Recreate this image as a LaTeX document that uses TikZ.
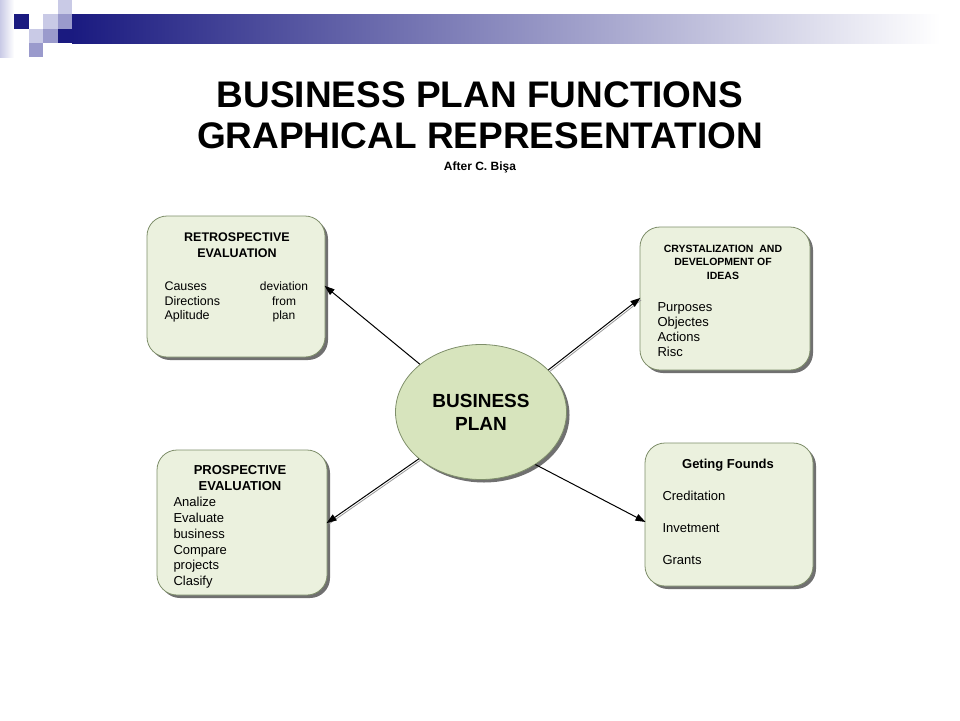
\documentclass[tikz,border=0pt]{standalone}
\usepackage{fontspec}
\setmainfont{Liberation Sans}
\usetikzlibrary{shapes.geometric, shadows, arrows.meta, calc}
\definecolor{navyblue}{HTML}{1A1A80}
\definecolor{lightlav}{HTML}{C9CAE6}
\definecolor{midlav}{HTML}{9A9ACC}
\definecolor{boxfill}{HTML}{EBF1DE}
\definecolor{ovalfill}{HTML}{D7E4BD}
\definecolor{boxline}{HTML}{7E8E6A}
\begin{document}
\begin{tikzpicture}[
        x = 1pt, y = -1pt,
        line width = 1pt,
        card/.style = {draw = boxline, fill = boxfill, line width = 0.8pt, rounded corners = 20pt, inner sep = 0pt,
            drop shadow = {shadow xshift = 3pt, shadow yshift = -3pt, fill = black!70, opacity = 0.8}},
        oval/.style = {ellipse, draw = boxline, fill = ovalfill, line width = 0.8pt, inner sep = 0pt, align = center,
            minimum width = 171pt, minimum height = 135pt, font = \bfseries\fontsize{19}{23}\selectfont,
            drop shadow = {shadow xshift = 3pt, shadow yshift = -3pt, fill = black!70, opacity = 0.8}},
        title/.style = {font = \bfseries\fontsize{37}{41}\selectfont, inner sep = 0pt, anchor = base},
        head/.style = {font = \bfseries\fontsize{13}{15}\selectfont, inner sep = 0pt, anchor = base},
        item/.style = {font = \fontsize{13}{15}\selectfont, inner sep = 0pt, anchor = base west},
        link/.style = {-{Triangle[length = 10pt, width = 7pt]}, black, shorten > = -1pt},
        shade link/.style = {black!40, line width = 0.8pt, transform canvas = {xshift = 1.5pt, yshift = -1.5pt}}
    ]
        \useasboundingbox (0,0) rectangle (960,720);
        % header band
        \shade[left color = navyblue, right color = white] (72,14) rectangle (940,43);
        \shade[left color = lightlav, right color = white] (0,0) rectangle (14,57);
        \fill[lightlav] (58,0) rectangle (72,14);
        \fill[navyblue] (14,14) rectangle (29,29);
        \fill[lightlav] (43,14) rectangle (58,29);
        \fill[midlav] (58,14) rectangle (72,29);
        \fill[lightlav] (29,29) rectangle (43,43);
        \fill[midlav] (43,29) rectangle (58,43);
        \fill[navyblue] (58,29) rectangle (72,43);
        \fill[midlav] (29,43) rectangle (43,57);

        \node[title] (titleA) at (480,107) {BUSINESS PLAN FUNCTIONS};
        \node[title] (titleB) at (480,148) {GRAPHICAL REPRESENTATION};
        \node[head, font = \bfseries\fontsize{12}{14}\selectfont] (after) at (480,170) {After C. Bişa};

        % boxes
        \node[card, minimum width = 178pt, minimum height = 141pt] (retro) at (236,286.5) {};
        \node[card, minimum width = 170pt, minimum height = 143pt] (crystal) at (725,298.5) {};
        \node[card, minimum width = 170pt, minimum height = 145pt] (prosp) at (242,522.5) {};
        \node[card, minimum width = 168pt, minimum height = 143pt] (founds) at (729,514.5) {};
        \node[oval] (plan) at (481,412) {BUSINESS\\PLAN};

        % retrospective
        \node[head, font = \bfseries\fontsize{12.5}{15}\selectfont] (retroT1) at (237,241) {RETROSPECTIVE};
        \node[head, font = \bfseries\fontsize{12.5}{15}\selectfont] (retroT2) at (237,257) {EVALUATION};
        \node[item, font = \fontsize{12.5}{15}\selectfont] (causes) at (164,290) {Causes};
        \node[item, font = \fontsize{12.5}{15}\selectfont] (directions) at (164,305) {Directions};
        \node[item, font = \fontsize{12.5}{15}\selectfont] (aplitude) at (164,319.5) {Aplitude};
        \node[item, anchor = base, font = \fontsize{12}{15}\selectfont] (deviation) at (284,290) {deviation};
        \node[item, anchor = base, font = \fontsize{12}{15}\selectfont] (from) at (284,305) {from};
        \node[item, anchor = base, font = \fontsize{12}{15}\selectfont] (plantxt) at (284,319.5) {plan};

        % crystalization
        \node[head, font = \bfseries\fontsize{10.5}{13}\selectfont] (crystT1) at (723,252) {CRYSTALIZATION\ \ AND};
        \node[head, font = \bfseries\fontsize{10.5}{13}\selectfont] (crystT2) at (723,265.5) {DEVELOPMENT OF};
        \node[head, font = \bfseries\fontsize{10.5}{13}\selectfont] (crystT3) at (723,279) {IDEAS};
        \node[item] (purposes) at (657,311) {Purposes};
        \node[item] (objectes) at (657,326) {Objectes};
        \node[item] (actions) at (657,341) {Actions};
        \node[item] (risc) at (657,356) {Risc};

        % prospective
        \node[head] (prospT1) at (240,474.5) {PROSPECTIVE};
        \node[head] (prospT2) at (240,490) {EVALUATION};
        \node[item] (analize) at (173,506.5) {Analize};
        \node[item] (evaluate) at (173,522.3) {Evaluate};
        \node[item] (business) at (173,538) {business};
        \node[item] (compare) at (173,554) {Compare};
        \node[item] (projects) at (173,569.5) {projects};
        \node[item] (clasify) at (173,585.5) {Clasify};

        % founds
        \node[head] (foundsT) at (728,468.5) {Geting Founds};
        \node[item] (creditation) at (662,500.5) {Creditation};
        \node[item] (invetment) at (662,532.5) {Invetment};
        \node[item] (grants) at (662,564.5) {Grants};

        % connectors
        \draw[shade link] (plan.32) -- (crystal.west);
        \draw[shade link] (plan.217) -- (prosp.east);
        \draw[link] (plan.142) -- (retro.east);
        \draw[link] (plan.32) -- (crystal.west);
        \draw[link] (plan.217) -- (prosp.east);
        \draw[link] (plan.316) -- ($(founds.west) + (0,7)$);
    \end{tikzpicture}
\end{document}
